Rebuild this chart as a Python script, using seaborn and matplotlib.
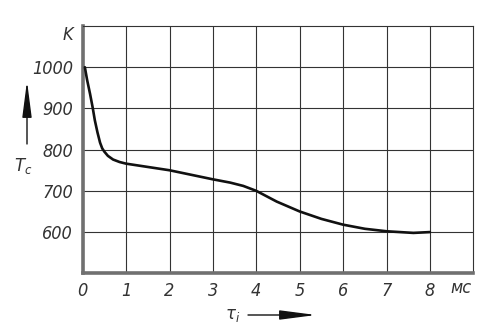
import matplotlib
matplotlib.use("Agg")
import matplotlib.pyplot as plt
import seaborn as sns
import pandas as pd
from matplotlib import font_manager
from matplotlib.font_manager import FontProperties

# data
time_ms = [0.05, 0.10, 0.17, 0.23, 0.28, 0.34, 0.40, 0.45, 0.50, 0.58, 0.70, 0.85,
           1.0, 1.5, 2.0, 2.5, 3.0, 3.4, 3.7, 4.0, 4.47, 5.0, 5.5, 6.0, 6.5, 7.0,
           7.62, 8.0]
temp_K = [1000, 970, 935, 902, 871, 842, 817, 803, 795, 785, 776, 770,
          766, 758, 750, 739, 728, 720, 712, 700, 674, 650, 632, 618, 608, 602,
          598, 600]
x_ticks = [0, 1, 2, 3, 4, 5, 6, 7, 8]
y_ticks = [600, 700, 800, 900, 1000]

sns.set_theme(style="white")
plt.rcParams["font.family"] = ["DejaVu Sans"]
plt.rcParams["mathtext.fontset"] = "dejavusans"

# look for a narrow italic face
cand = None
files = [f.fname for f in font_manager.fontManager.ttflist]
extra = font_manager.findSystemFonts()
allf = list(dict.fromkeys(files + extra))
for key in ["LiberationSansNarrow-Italic", "DejaVuSansCondensed-Oblique",
            "LiberationSansNarrow-Regular", "DejaVuSansCondensed."]:
    for f in allf:
        if key in f.replace(" ", ""):
            cand = f
            break
    if cand:
        break
if cand:
    fprop = FontProperties(fname=cand, size=13)
else:
    fprop = FontProperties(family="DejaVu Sans", style="italic", size=12)

fig = plt.figure(figsize=(4.96, 3.33), dpi=100)
ax = fig.add_axes([82.7 / 496, 1 - 273.3 / 333, (473.3 - 82.7) / 496, (273.3 - 26) / 333])

df = pd.DataFrame({"t": time_ms, "T": temp_K})
sns.lineplot(data=df, x="t", y="T", ax=ax, color="#111111", linewidth=1.9, zorder=5)

ax.set_xlim(0, 9)
ax.set_ylim(500, 1100)
ax.set_xticks(x_ticks)
ax.set_yticks(y_ticks)
ax.set_xticklabels([str(v) for v in x_ticks])
ax.set_yticklabels([str(v) for v in y_ticks])
ax.set_xlabel("")
ax.set_ylabel("")
ax.grid(True, color="#333333", linewidth=0.8)
ax.tick_params(length=0, colors="#333333")
ax.tick_params(axis="x", pad=6)
ax.tick_params(axis="y", pad=7)
for lab in ax.get_xticklabels() + ax.get_yticklabels():
    lab.set_fontproperties(fprop)
    if not cand:
        lab.set_fontstyle("italic")

for s in ["left", "bottom"]:
    ax.spines[s].set_color("#707070")
    ax.spines[s].set_linewidth(2.6)
for s in ["top", "right"]:
    ax.spines[s].set_color("#333333")
    ax.spines[s].set_linewidth(0.8)

W, H = 496, 333
def fp(x, y):
    return (x / W, 1 - y / H)

fig.text(*fp(68, 35), "K", fontproperties=fprop, color="#333333",
         ha="center", va="center")
fig.text(*fp(461, 288), "мс", fontproperties=fprop, color="#333333",
         ha="center", va="center")
fig.text(*fp(23, 166), r"$T_c$", fontsize=12, color="#333333", ha="center", va="center")
fig.text(*fp(233, 315), r"$\tau_i$", fontsize=12, color="#333333", ha="center", va="center")

arrow_style = "-|>,head_length=1.85,head_width=0.24"
ax.annotate("", xy=fp(27, 81), xycoords="figure fraction", xytext=fp(27, 144),
            textcoords="figure fraction", fontsize=12,
            arrowprops=dict(arrowstyle=arrow_style,
                            color="#111111", lw=1.0, shrinkA=0, shrinkB=0))
ax.annotate("", xy=fp(316, 315), xycoords="figure fraction", xytext=fp(248, 315),
            textcoords="figure fraction", fontsize=12,
            arrowprops=dict(arrowstyle=arrow_style,
                            color="#111111", lw=1.0, shrinkA=0, shrinkB=0))

fig.savefig("out.png", dpi=100)
